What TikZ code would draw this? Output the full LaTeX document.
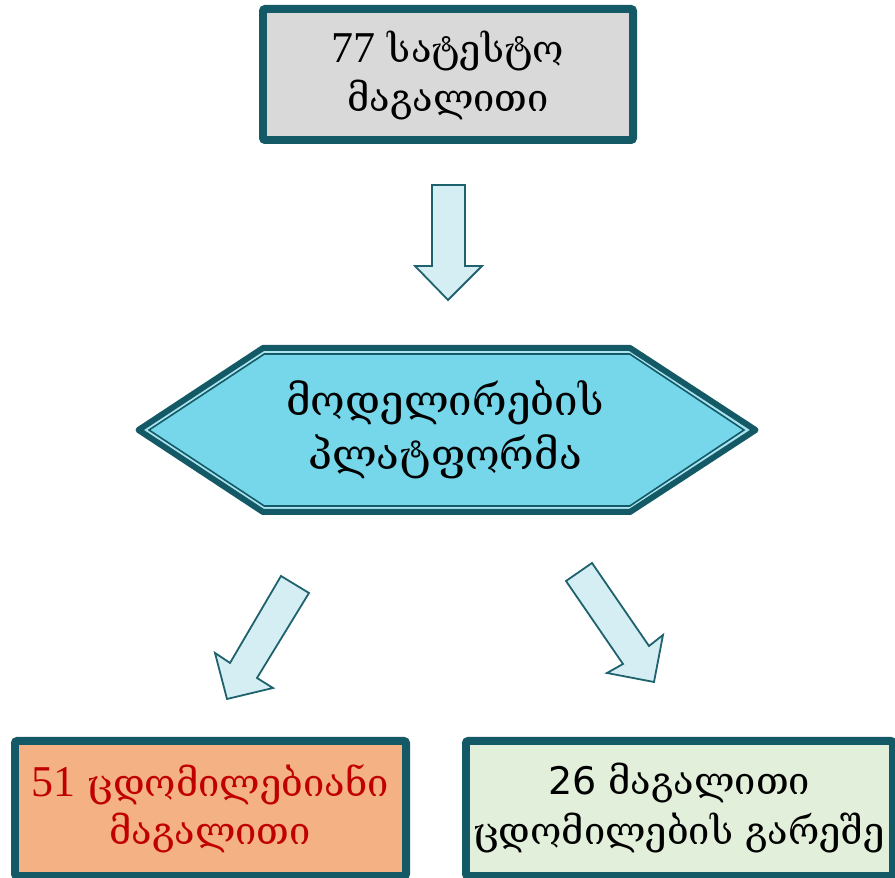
\documentclass[tikz,border=0pt]{standalone}
\usepackage{fontspec}
\newfontfamily\geo{DejaVu Serif}
\newfontfamily\numserif{Liberation Serif}
\newfontfamily\numsans{DejaVu Sans}
\usetikzlibrary{calc}

\definecolor{frameteal}{RGB}{20,90,102}
\definecolor{arrowline}{RGB}{30,98,110}
\definecolor{arrowfill}{RGB}{213,238,244}
\definecolor{greyfill}{RGB}{217,217,217}
\definecolor{greygap}{RGB}{232,234,234}
\definecolor{hexfill}{RGB}{118,214,234}
\definecolor{hexgap}{RGB}{170,228,241}
\definecolor{peachfill}{RGB}{244,177,131}
\definecolor{peachgap}{RGB}{248,204,172}
\definecolor{greenfill}{RGB}{226,239,218}
\definecolor{greengap}{RGB}{238,246,233}
\definecolor{errred}{RGB}{192,0,0}

\newcommand{\bignum}[1]{{\numserif\fontsize{44}{46}\selectfont #1}}

\tikzset{
  frame/.style={draw=frameteal, line width=6pt, rounded corners=3pt, inner sep=0pt},
  innerline/.style={draw=frameteal, line width=1.6pt},
  blockarrow/.style={draw=arrowline, fill=arrowfill, line width=1.8pt, line join=miter},
  lbl/.style={anchor=base, inner sep=0pt, font=\geo\fontsize{38}{46}\selectfont},
  hexlbl/.style={lbl, font=\geo\fontsize{42}{50}\selectfont},
}

\begin{document}
\begin{tikzpicture}[x=1pt, y=1pt]
\useasboundingbox (0,0) rectangle (895,878);
\clip (0,0) rectangle (895,878);

% top box
\node[frame, fill=greygap, minimum width=372pt, minimum height=133pt] (top) at (448,803.5) {};
\draw[innerline, fill=greyfill] ($(top.north west)+(7,-7)$) rectangle ($(top.south east)+(-7,7)$);
\node[lbl] (topa) at (448,815) {\bignum{77} სატესტო};
\node[lbl] (topb) at (448,766) {მაგალითი};

% arrow into the platform
\draw[blockarrow] (432,693) -- (465,693) -- (465,612) -- (482,612) -- (448,578)
  -- (415,612) -- (432,612) -- cycle;

% modelling platform hexagon
\coordinate (hexc) at (447,448);
\draw[draw=frameteal, line width=6pt, line join=round, fill=hexgap]
  (138.5,448) -- (263,530) -- (630,530) -- (755.5,448) -- (630,366) -- (263,366) -- cycle;
\draw[innerline, fill=hexfill]
  (149,448) -- (264.3,524) -- (629.7,524) -- (744,448) -- (629.7,372) -- (264.3,372) -- cycle;
\node[hexlbl] (hexa) at (445,462) {მოდელირების};
\node[hexlbl] (hexb) at (445,408) {პლატფორმა};

% arrows out of the platform
\draw[blockarrow] (281,302) -- (309,285) -- (257,200) -- (273,190) -- (227,179)
  -- (215,225) -- (230,215) -- cycle;
\draw[blockarrow] (566,297) -- (592,315) -- (649,232) -- (663,243) -- (654,196)
  -- (607,205) -- (623,214) -- cycle;

% examples with errors
\node[frame, fill=peachgap, minimum width=393pt, minimum height=137pt] (err) at (210.5,69.5) {};
\draw[innerline, fill=peachfill] ($(err.north west)+(7,-7)$) rectangle ($(err.south east)+(-7,7)$);
\node[lbl, text=errred] (erra) at (210,81) {\bignum{51} ცდომილებიანი};
\node[lbl, text=errred] (errb) at (210,33) {მაგალითი};

% examples without errors
\node[frame, fill=greengap, minimum width=429pt, minimum height=137pt] (ok) at (679.5,69.5) {};
\draw[innerline, fill=greenfill] ($(ok.north west)+(7,-7)$) rectangle ($(ok.south east)+(-7,7)$);
\node[lbl] (oka) at (679,83) {{\numsans 26} მაგალითი};
\node[lbl] (okb) at (679,33) {ცდომილების გარეშე};
\end{tikzpicture}
\end{document}
